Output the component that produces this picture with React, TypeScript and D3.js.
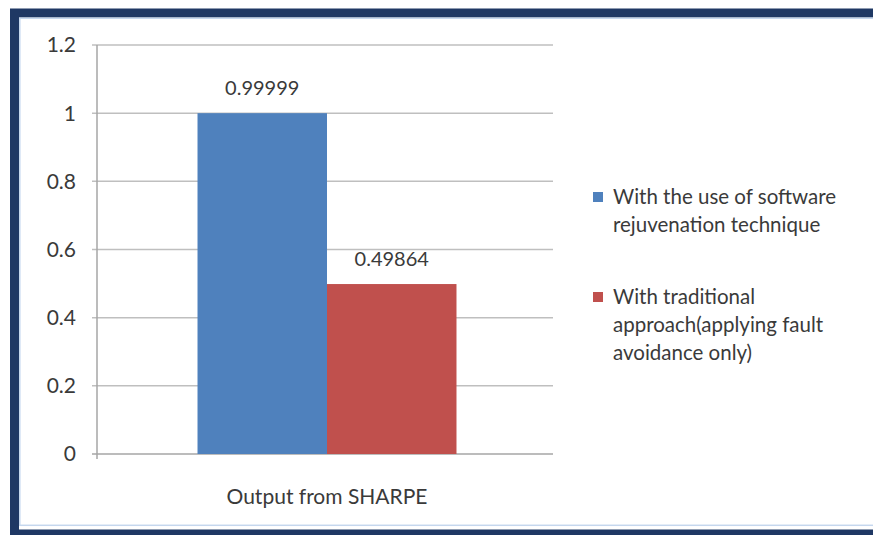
import * as d3 from 'd3'

const categories = ['Output from SHARPE']
const seriesNames = [
	['With the use of software', 'rejuvenation technique'],
	['With traditional', 'approach(applying fault', 'avoidance only)'],
]
const seriesValues = [0.99999, 0.49864]
const valueLabels = ['0.99999', '0.49864']
const seriesColors = ['#4f81bd', '#c0504d']
const yTicks = [0, 0.2, 0.4, 0.6, 0.8, 1, 1.2]

const width = 873
const height = 535
const plot = { left: 97, right: 557, top: 45, bottom: 454 }
const font = 'Lato, "Open Sans", sans-serif'
const textColor = '#3a3a3a'

const App = () => {
	const y = d3.scaleLinear().domain([0, 1.2]).range([plot.bottom, plot.top])
	const x0 = d3.scaleBand().domain(categories).range([plot.left, plot.right]).padding(0.2796)
	const x1 = d3
		.scaleBand()
		.domain(seriesValues.map((_, i) => String(i)))
		.range([0, x0.bandwidth()])

	const legendY = [197, 297]

	return (
		<svg
			width={width}
			height={height}
			style={{ position: 'absolute', left: 0, top: 0, background: '#fff' }}
			fontFamily={font}
		>
			{/* frame */}
			<rect x={14.5} y={13} width={900} height={521} fill='#fff' stroke='#1f3864' strokeWidth={9} />
			<rect x={19.8} y={18.3} width={900} height={507} fill='none' stroke='#c5d7ee' strokeWidth={1.5} />

			{/* gridlines and y axis */}
			{yTicks.map((t) => (
				<g key={t}>
					<line
						x1={plot.left - 5}
						x2={plot.right - 4}
						y1={y(t)}
						y2={y(t)}
						stroke={t === 0 ? '#a6a6a6' : '#bfbfbf'}
						strokeWidth={1.5}
					/>
					<text
						x={76}
						y={y(t)}
						dy='0.35em'
						textAnchor='end'
						fontSize={21}
						fill={textColor}
					>
						{d3.format('~g')(t)}
					</text>
				</g>
			))}
			<line x1={plot.left} x2={plot.left} y1={plot.top} y2={plot.bottom + 5} stroke='#a6a6a6' strokeWidth={1.5} />

			{/* bars */}
			{categories.map((c) => (
				<g key={c} transform={`translate(${x0(c)},0)`}>
					{seriesValues.map((v, i) => (
						<g key={i}>
							<rect
								x={x1(String(i))}
								y={y(v)}
								width={x1.bandwidth()}
								height={y(0) - y(v)}
								fill={seriesColors[i]}
							/>
							<text
								x={(x1(String(i)) ?? 0) + x1.bandwidth() / 2}
								y={y(v) - 25}
								dy='0.35em'
								textAnchor='middle'
								fontSize={20}
								fill={textColor}
							>
								{valueLabels[i]}
							</text>
						</g>
					))}
					<text
						x={x0.bandwidth() / 2}
						y={497}
						dy='0.35em'
						textAnchor='middle'
						fontSize={21}
						fill={textColor}
					>
						{c}
					</text>
				</g>
			))}

			{/* legend */}
			{seriesNames.map((lines, i) => (
				<g key={i}>
					<rect x={593} y={legendY[i] - 5} width={10} height={10} fill={seriesColors[i]} />
					{lines.map((l, j) => (
						<text
							key={j}
							x={613}
							y={legendY[i] + j * 28}
							dy='0.35em'
							fontSize={20.5}
							fill={textColor}
						>
							{l}
						</text>
					))}
				</g>
			))}
		</svg>
	)
}

export default App
